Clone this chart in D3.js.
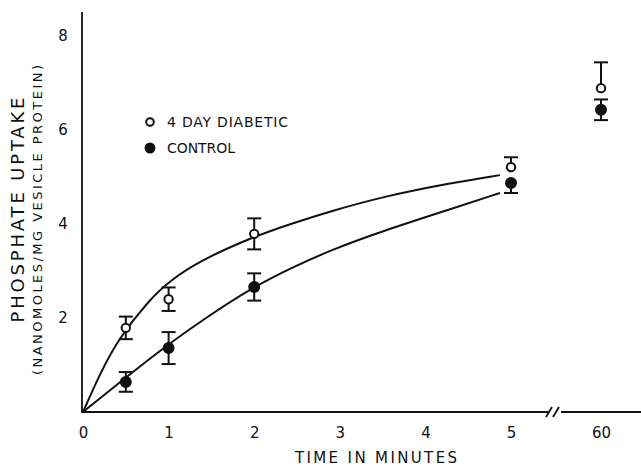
<!DOCTYPE html>
<html>
<head>
<meta charset="utf-8">
<script src="https://cdnjs.cloudflare.com/ajax/libs/d3/7.8.5/d3.min.js"></script>
<style>
html,body{margin:0;padding:0;background:#fff;}
svg{display:block;}
text{font-family:"DejaVu Sans",sans-serif;fill:#111;}
</style>
</head>
<body>
<svg id="chart" width="641" height="466"></svg>
<script>
// measured points (minutes / nanomoles per mg)
var timePoints = [0.5, 1, 2, 5, 60];
var diabeticMean = [1.79, 2.40, 3.79, 5.21, 6.89];
var diabeticErr = [0.24, 0.25, 0.33, 0.21, 0.55];
var diabeticErrSide = ['both', 'both', 'both', 'up', 'up'];
var controlMean = [0.64, 1.36, 2.66, 4.87, 6.43];
var controlErr = [0.21, 0.34, 0.29, 0.21, 0.22];
var controlErrSide = ['both', 'both', 'both', 'down', 'both'];

// fitted curves as drawn in the figure, [minutes, uptake]
var diabeticCurve = [[0,0],[0.2,0.82],[0.41,1.55],[0.78,2.40],[1.02,2.80],[1.37,3.22],[1.95,3.70],[2.42,4.00],[2.89,4.27],[3.5,4.58],[4.29,4.87],[4.87,5.04]];
var controlCurve = [[0,0],[0.45,0.66],[0.95,1.38],[1.4,1.96],[1.95,2.62],[2.45,3.08],[2.9,3.45],[3.5,3.85],[4.3,4.32],[4.87,4.66]];

var xTicks = [0, 1, 2, 3, 4, 5];
var xTicksLate = [60];
var yTicks = [2, 4, 6, 8];
var legendLabels = ['4 DAY DIABETIC', 'CONTROL'];

var svg = d3.select('#chart');

var x = d3.scaleLinear().domain([0, 5]).range([83, 511]);
// the part after the axis break
var xLate = d3.scaleLinear().domain([57, 63]).range([565, 637]);
var y = d3.scaleLinear().domain([0, 8]).range([412, 36]);
function xPos(t){ return t > 5 ? xLate(t) : x(t); }

// axis lines
var axisG = svg.append('g').attr('stroke', '#111').attr('stroke-width', 1.8).attr('fill', 'none');
axisG.append('line').attr('x1', x(0) - 1).attr('x2', x(0) - 1).attr('y1', 12).attr('y2', y(0) + 1);
axisG.append('line').attr('x1', x(0) - 1).attr('x2', 549).attr('y1', y(0)).attr('y2', y(0));
axisG.append('line').attr('x1', 561).attr('x2', 641).attr('y1', y(0)).attr('y2', y(0));
// break marks
[549, 556].forEach(function(bx){
	axisG.append('line').attr('x1', bx - 3).attr('y1', y(0) + 5).attr('x2', bx + 3).attr('y2', y(0) - 5);
});

function styleTicks(g){
	g.select('.domain').remove();
	g.attr('font-family', null).attr('font-size', null);
	g.selectAll('text').attr('font-size', 15).attr('fill', '#111');
}

svg.append('g')
	.attr('transform', 'translate(0,' + y(0) + ')')
	.call(d3.axisBottom(x).tickValues(xTicks).tickSize(0).tickPadding(15).tickFormat(d3.format('d')))
	.call(styleTicks);

svg.append('g')
	.attr('transform', 'translate(0,' + y(0) + ')')
	.call(d3.axisBottom(xLate).tickValues(xTicksLate).tickSize(0).tickPadding(15).tickFormat(d3.format('d')))
	.call(styleTicks);

svg.append('g')
	.attr('transform', 'translate(' + x(0) + ',0)')
	.call(d3.axisLeft(y).tickValues(yTicks).tickSize(0).tickFormat(d3.format('d')))
	.call(styleTicks)
	.selectAll('text').attr('x', -20).attr('text-anchor', 'middle');

// curves
var line = d3.line()
	.x(function(d){ return x(d[0]); })
	.y(function(d){ return y(d[1]); })
	.curve(d3.curveBasis);

svg.append('path').datum(diabeticCurve).attr('d', line)
	.attr('fill', 'none').attr('stroke', '#111').attr('stroke-width', 2);
svg.append('path').datum(controlCurve).attr('d', line)
	.attr('fill', 'none').attr('stroke', '#111').attr('stroke-width', 2);

// error bars + markers
function drawSeries(means, errs, sides, open){
	var rows = timePoints.map(function(t, i){
		return { t: t, v: means[i], e: errs[i], side: sides[i] };
	});
	var g = svg.append('g').attr('stroke', '#111').attr('stroke-width', 2);
	rows.forEach(function(d){
		var cx = xPos(d.t);
		var top = d.side == 'down' ? d.v : d.v + d.e;
		var bot = d.side == 'up' ? d.v : d.v - d.e;
		g.append('line').attr('x1', cx).attr('x2', cx).attr('y1', y(top)).attr('y2', y(bot));
		if( d.side != 'down' ) g.append('line').attr('x1', cx - 7).attr('x2', cx + 7).attr('y1', y(top)).attr('y2', y(top));
		if( d.side != 'up' ) g.append('line').attr('x1', cx - 7).attr('x2', cx + 7).attr('y1', y(bot)).attr('y2', y(bot));
	});
	g.selectAll('circle').data(rows).enter().append('circle')
		.attr('cx', function(d){ return xPos(d.t); })
		.attr('cy', function(d){ return y(d.v); })
		.attr('r', open ? 4.2 : 5)
		.attr('fill', open ? '#fff' : '#111');
}
drawSeries(diabeticMean, diabeticErr, diabeticErrSide, true);
drawSeries(controlMean, controlErr, controlErrSide, false);

// legend
var legend = svg.append('g');
legendLabels.forEach(function(lbl, i){
	var ly = 122 + i * 26;
	legend.append('circle').attr('cx', 150).attr('cy', ly)
		.attr('r', i == 0 ? 3.8 : 4.5)
		.attr('fill', i == 0 ? '#fff' : '#111')
		.attr('stroke', '#111').attr('stroke-width', 2);
	legend.append('text').attr('x', 167).attr('y', ly + 5)
		.attr('font-size', 14)
		.attr('textLength', i == 0 ? 121 : 68).attr('lengthAdjust', 'spacing')
		.text(lbl);
});

// axis titles
svg.append('text').attr('x', 376).attr('y', 463).attr('text-anchor', 'middle')
	.attr('font-size', 15).attr('textLength', 162).attr('lengthAdjust', 'spacing')
	.text('TIME IN MINUTES');
svg.append('text').attr('transform', 'translate(24,210) rotate(-90)').attr('text-anchor', 'middle')
	.attr('font-size', 18).attr('textLength', 225).attr('lengthAdjust', 'spacing')
	.text('PHOSPHATE UPTAKE');
svg.append('text').attr('transform', 'translate(42,220) rotate(-90)').attr('text-anchor', 'middle')
	.attr('font-size', 13).attr('textLength', 310).attr('lengthAdjust', 'spacing')
	.text('(NANOMOLES/MG VESICLE PROTEIN)');
</script>
</body>
</html>
